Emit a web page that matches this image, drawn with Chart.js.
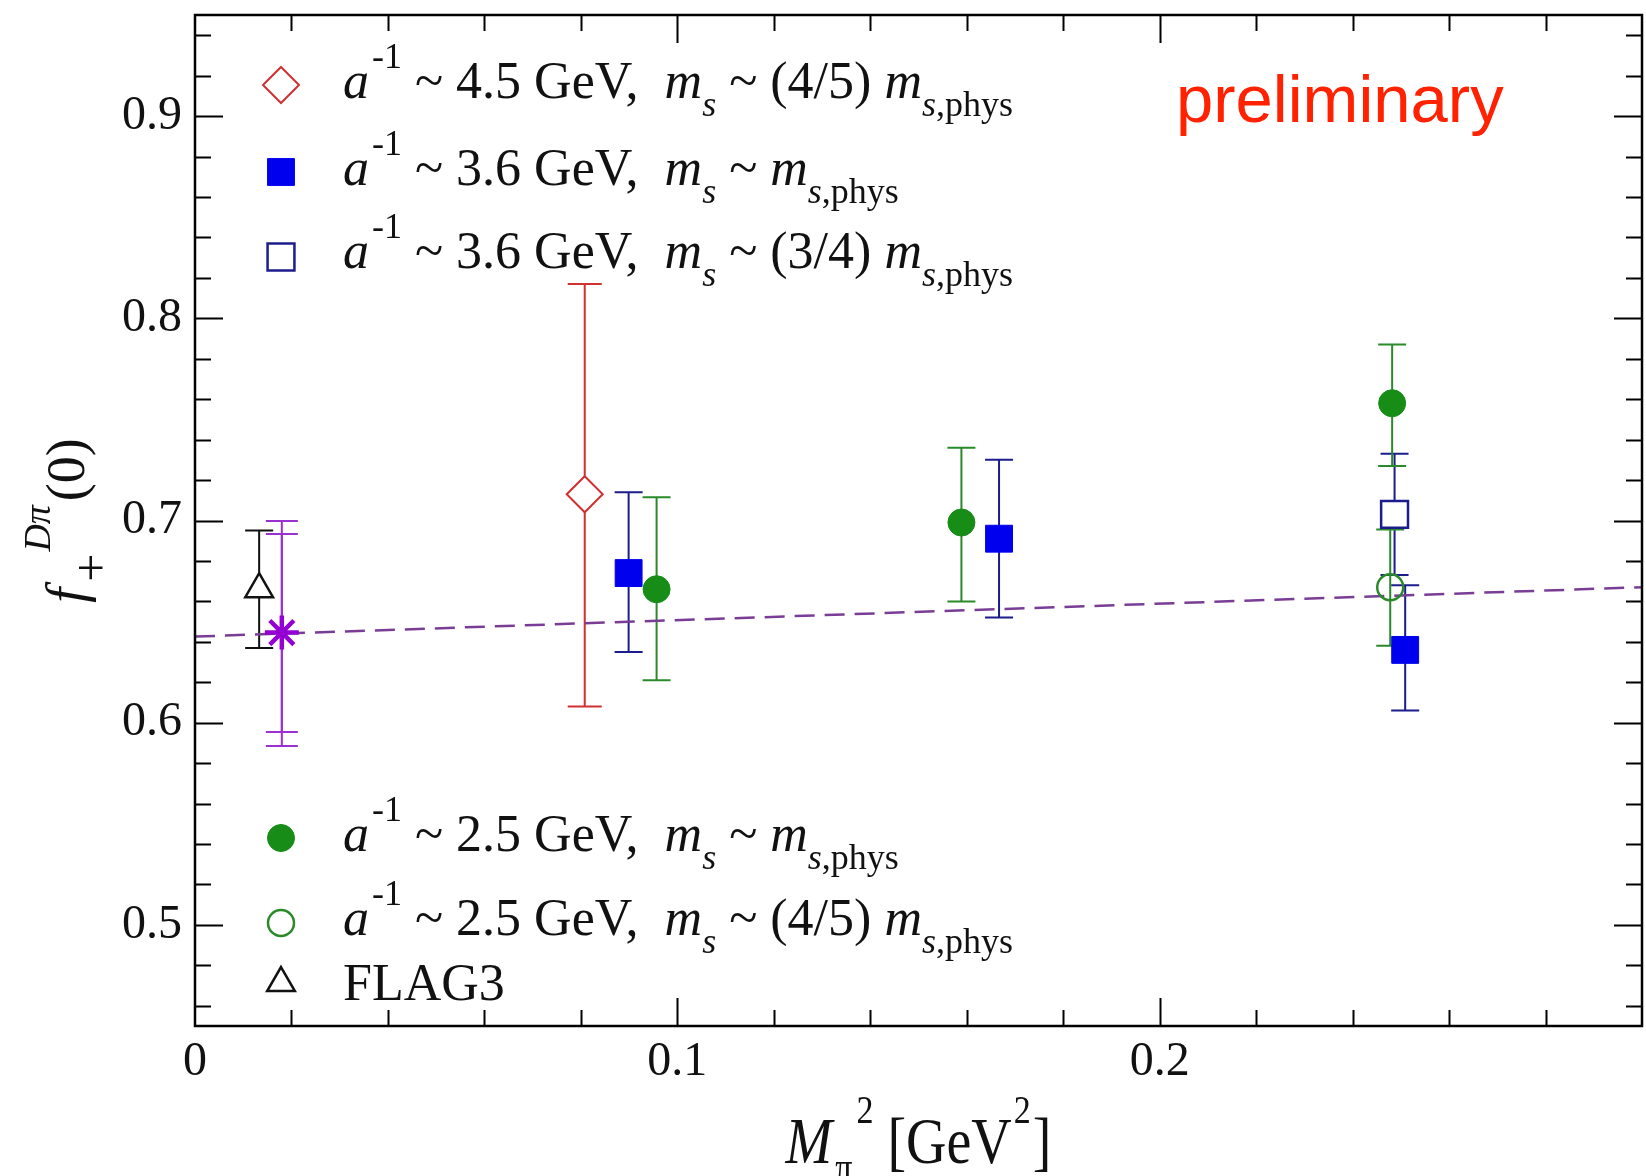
<!DOCTYPE html>
<html><head><meta charset="utf-8">
<script src="https://cdn.jsdelivr.net/npm/chart.js@4.4.0/dist/chart.umd.min.js"></script>
<style>html,body{margin:0;padding:0;background:#fff;}canvas{display:block;}</style>
</head><body>
<canvas id="c" width="1646" height="1176"></canvas>
<script>
// ---------------- data ----------------
const xTicks = [0, 0.1, 0.2];
const yTicks = [0.5, 0.6, 0.7, 0.8, 0.9];

// a^-1 ~ 4.5 GeV, ms ~ (4/5) ms,phys  (open diamond)
const diamondX  = [0.0808];
const diamondY  = [0.713];
const diamondLo = [0.608];
const diamondHi = [0.817];
// a^-1 ~ 3.6 GeV, ms ~ ms,phys  (filled square)
const blueX  = [0.0899, 0.1667, 0.2509];
const blueY  = [0.674, 0.691, 0.636];
const blueLo = [0.635, 0.652, 0.606];
const blueHi = [0.714, 0.730, 0.668];
// a^-1 ~ 3.6 GeV, ms ~ (3/4) ms,phys  (open square)
const openSqX  = [0.2487];
const openSqY  = [0.703];
const openSqLo = [0.673];
const openSqHi = [0.733];
// a^-1 ~ 2.5 GeV, ms ~ ms,phys  (filled circle)
const greenX  = [0.0957, 0.1589, 0.2482];
const greenY  = [0.666, 0.699, 0.758];
const greenLo = [0.621, 0.660, 0.727];
const greenHi = [0.7115, 0.736, 0.787];
// a^-1 ~ 2.5 GeV, ms ~ (4/5) ms,phys  (open circle)
const openCircX  = [0.2478];
const openCircY  = [0.667];
const openCircLo = [0.638];
const openCircHi = [0.6955];
// FLAG3 (open triangle)
const flagX  = [0.0133];
const flagY  = [0.666];
const flagLo = [0.637];
const flagHi = [0.695];
// physical-point result (star): statistical and total errors
const physX      = [0.018];
const physY      = [0.6446];
const physStatLo = [0.5954];
const physStatHi = [0.6933];
const physTotLo  = [0.5885];
const physTotHi  = [0.6998];
// fit line (dashed)
const fitX = [0, 0.3];
const fitY = [0.6426, 0.667];

// legend text, as [text, kind] pieces
const legendLabels = [
  [['a','i'],['-1','sup',3],[' ~ 4.5 GeV,  ',''],['m','i'],['s','subi'],[' ~ (4/5) ',''],['m','i'],['s','subi'],[',phys','sub']],
  [['a','i'],['-1','sup',3],[' ~ 3.6 GeV,  ',''],['m','i'],['s','subi'],[' ~ ',''],['m','i'],['s','subi'],[',phys','sub']],
  [['a','i'],['-1','sup',3],[' ~ 3.6 GeV,  ',''],['m','i'],['s','subi'],[' ~ (3/4) ',''],['m','i'],['s','subi'],[',phys','sub']],
  [['a','i'],['-1','sup',3],[' ~ 2.5 GeV,  ',''],['m','i'],['s','subi'],[' ~ ',''],['m','i'],['s','subi'],[',phys','sub']],
  [['a','i'],['-1','sup',3],[' ~ 2.5 GeV,  ',''],['m','i'],['s','subi'],[' ~ (4/5) ',''],['m','i'],['s','subi'],[',phys','sub']],
  [['FLAG3','']]
];
const xTitle = [['M','i'],['\u03c0','sub',3],['2','sup',4],[' [GeV',''],['2','sup',2],[']','',2]];
const yTitle = [['f','i'],['+','sub',6,50],['D\u03c0','supi',2],['(0)','',4]];
const watermark = 'preliminary';

// ---------------- helpers ----------------
const SERIF = '"Liberation Serif","Times New Roman",Times,serif';
function pts(xs, ys) { return xs.map((x, i) => ({x: x, y: ys[i]})); }

function segFont(s, o) {
  const k = s[1];
  const small = k.startsWith('sub') || k.startsWith('sup');
  const ital = (k === 'i' || k === 'subi' || k === 'supi');
  const size = s[3] || (small ? o.small : o.size);
  return (ital ? 'italic ' : '') + size + 'px ' + SERIF;
}
function richWidth(ctx, segs, o) {
  let w = 0;
  for (const s of segs) {
    ctx.font = segFont(s, o);
    w += (s[2] || 0) + ctx.measureText(s[0]).width;
  }
  return w;
}
function drawRich(ctx, segs, x, y, o) {
  let cx = x;
  ctx.textBaseline = 'alphabetic';
  ctx.textAlign = 'left';
  for (const s of segs) {
    const k = s[1];
    ctx.font = segFont(s, o);
    let dy = 0;
    if (k.startsWith('sub')) dy = o.subOff;
    else if (k.startsWith('sup')) dy = -o.supOff;
    cx += (s[2] || 0);
    ctx.fillText(s[0], cx, y + dy);
    cx += ctx.measureText(s[0]).width;
  }
}

function drawMarker(ctx, style, r, x, y, fill, stroke, bw) {
  ctx.save();
  ctx.fillStyle = fill;
  ctx.strokeStyle = stroke;
  ctx.lineWidth = bw;
  if (Chart.helpers && Chart.helpers.drawPoint) {
    Chart.helpers.drawPoint(ctx, {pointStyle: style, radius: r, rotation: 0, borderWidth: bw}, x, y);
  }
  ctx.restore();
}

// ---------------- plugins ----------------
const errorBarPlugin = {
  id: 'errorBars',
  beforeDatasetsDraw(chart) {
    const ctx = chart.ctx, xs = chart.scales.x, ys = chart.scales.y;
    chart.data.datasets.forEach(ds => {
      if (!ds.errBars) return;
      ds.errBars.forEach(eb => {
        ctx.save();
        ctx.strokeStyle = eb.color;
        ctx.lineWidth = 2;
        ds.data.forEach((p, i) => {
          const px = xs.getPixelForValue(p.x);
          const y1 = ys.getPixelForValue(eb.lo[i]);
          const y2 = ys.getPixelForValue(eb.hi[i]);
          ctx.beginPath();
          ctx.moveTo(px, y1); ctx.lineTo(px, y2);
          ctx.moveTo(px - eb.cap, y1); ctx.lineTo(px + eb.cap, y1);
          ctx.moveTo(px - eb.cap, y2); ctx.lineTo(px + eb.cap, y2);
          ctx.stroke();
        });
        ctx.restore();
      });
    });
  }
};

const framePlugin = {
  id: 'frame',
  afterDatasetsDraw(chart) {
    const ctx = chart.ctx, a = chart.chartArea, xs = chart.scales.x, ys = chart.scales.y;
    ctx.save();
    ctx.strokeStyle = '#000';
    ctx.lineWidth = 2;
    const MAJ = 28, MIN = 16;
    ctx.beginPath();
    for (let i = 1; i < 15; i++) {
      const v = i * 0.02;
      const px = Math.round(xs.getPixelForValue(v)) + 0.5;
      const len = (i % 5 === 0) ? MAJ : MIN;
      ctx.moveTo(px, a.bottom); ctx.lineTo(px, a.bottom - len);
      ctx.moveTo(px, a.top); ctx.lineTo(px, a.top + len);
    }
    for (let i = 0; i < 25; i++) {
      const v = 0.46 + i * 0.02;
      const py = Math.round(ys.getPixelForValue(v)) + 0.5;
      const len = ((i - 2) % 5 === 0) ? MAJ : MIN;
      ctx.moveTo(a.left, py); ctx.lineTo(a.left + len, py);
      ctx.moveTo(a.right, py); ctx.lineTo(a.right - len, py);
    }
    ctx.stroke();
    ctx.lineWidth = 2.5;
    ctx.strokeRect(a.left, a.top, a.right - a.left, a.bottom - a.top);
    ctx.restore();
  }
};

const textPlugin = {
  id: 'texts',
  afterDraw(chart) {
    const ctx = chart.ctx, a = chart.chartArea;
    ctx.save();
    ctx.fillStyle = '#111';
    // legend
    const ds = chart.data.datasets;
    const rows = [
      {d: 1, cy: 85,  base: 98},
      {d: 2, cy: 172, base: 185},
      {d: 3, cy: 257, base: 268},
      {d: 4, cy: 838, base: 851},
      {d: 5, cy: 923, base: 935},
      {d: 6, cy: 983, base: 1000}
    ];
    const lo = {size: 52, small: 36, supOff: 30, subOff: 18};
    rows.forEach((r, i) => {
      const d = ds[r.d];
      drawMarker(ctx, d.pointStyle, d.pointRadius, 281, r.cy,
        d.backgroundColor, d.borderColor, d.borderWidth);
      ctx.fillStyle = '#111';
      drawRich(ctx, legendLabels[i], 343, r.base, lo);
    });
    // x title
    const xo = {size: 56, small: 34, supOff: 34, subOff: 15};
    const wx = richWidth(ctx, xTitle, xo);
    ctx.save();
    ctx.translate((a.left + a.right) / 2 - wx / 2, 1163);
    ctx.scale(1, 1.18);
    drawRich(ctx, xTitle, 0, 0, xo);
    ctx.restore();
    // y title
    const yo = {size: 54, small: 38, supOff: 34, subOff: 24};
    const wy = richWidth(ctx, yTitle, yo);
    ctx.save();
    ctx.translate(84, (a.top + a.bottom) / 2);
    ctx.rotate(-Math.PI / 2);
    drawRich(ctx, yTitle, -wy / 2, 0, yo);
    ctx.restore();
    // watermark
    ctx.fillStyle = '#ff2200';
    ctx.font = '67px "Liberation Sans", Arial, Helvetica, sans-serif';
    ctx.textAlign = 'left';
    ctx.textBaseline = 'alphabetic';
    ctx.fillText(watermark, 1176, 122);
    ctx.restore();
  }
};

// ---------------- chart ----------------
const tickFont = {family: SERIF, size: 48};
new Chart(document.getElementById('c'), {
  type: 'scatter',
  data: {
    datasets: [
      {label: 'fit', type: 'line', data: pts(fitX, fitY), borderColor: '#7a3d96', borderWidth: 2.5,
       borderDash: [20, 10], pointRadius: 0, fill: false, order: 10},
      {label: 'a4.5', data: pts(diamondX, diamondY), pointStyle: 'rectRot', pointRadius: 18,
       backgroundColor: '#ffffff', borderColor: '#d03030', borderWidth: 2,
       errBars: [{lo: diamondLo, hi: diamondHi, cap: 17, color: '#d03030'}]},
      {label: 'a3.6', data: pts(blueX, blueY), pointStyle: 'rect', pointRadius: 19,
       backgroundColor: '#0000ee', borderColor: '#0000ee', borderWidth: 1,
       errBars: [{lo: blueLo, hi: blueHi, cap: 14, color: '#1c1c8c'}]},
      {label: 'a3.6b', data: pts(openSqX, openSqY), pointStyle: 'rect', pointRadius: 19,
       backgroundColor: '#ffffff', borderColor: '#1c1c8c', borderWidth: 2.5,
       errBars: [{lo: openSqLo, hi: openSqHi, cap: 14, color: '#1c1c8c'}]},
      {label: 'a2.5', data: pts(greenX, greenY), pointStyle: 'circle', pointRadius: 13.5,
       backgroundColor: '#178c17', borderColor: '#178c17', borderWidth: 1,
       errBars: [{lo: greenLo, hi: greenHi, cap: 14, color: '#2a8a2a'}]},
      {label: 'a2.5b', data: pts(openCircX, openCircY), pointStyle: 'circle', pointRadius: 13,
       backgroundColor: 'rgba(255,255,255,0)', borderColor: '#2a8a2a', borderWidth: 2.5,
       errBars: [{lo: openCircLo, hi: openCircHi, cap: 14, color: '#2a8a2a'}]},
      {label: 'FLAG3', data: pts(flagX, flagY), pointStyle: 'triangle', pointRadius: 16,
       backgroundColor: '#ffffff', borderColor: '#111111', borderWidth: 2.5,
       errBars: [{lo: flagLo, hi: flagHi, cap: 14, color: '#111111'}]},
      {label: 'phys', data: pts(physX, physY), pointStyle: 'star', pointRadius: 17,
       backgroundColor: '#9400d3', borderColor: '#9400d3', borderWidth: 4.5,
       errBars: [{lo: physTotLo, hi: physTotHi, cap: 16, color: '#9b30d0'},
                 {lo: physStatLo, hi: physStatHi, cap: 16, color: '#9b30d0'}]}
    ]
  },
  options: {
    responsive: false,
    animation: false,
    devicePixelRatio: 1,
    events: [],
    layout: {autoPadding: false, padding: {left: 0, right: 4, top: 15, bottom: 0}},
    plugins: {legend: {display: false}, tooltip: {enabled: false}, title: {display: false}},
    scales: {
      x: {
        type: 'linear', position: 'bottom', min: 0, max: 0.3,
        afterBuildTicks: s => { s.ticks = xTicks.map(v => ({value: v})); },
        afterFit: s => { s.height = 150; s.paddingLeft = 0; s.paddingRight = 0; },
        grid: {display: false, drawTicks: false},
        border: {display: false},
        ticks: {padding: 8, font: tickFont, color: '#111', maxRotation: 0, autoSkip: false,
                callback: v => (v === 0 ? '0' : v.toFixed(1))}
      },
      y: {
        type: 'linear', position: 'left', min: 0.45, max: 0.95,
        afterBuildTicks: s => { s.ticks = yTicks.map(v => ({value: v})); },
        afterFit: s => { s.width = 195; s.paddingTop = 0; s.paddingBottom = 0; },
        grid: {display: false, drawTicks: false},
        border: {display: false},
        ticks: {padding: 13, font: tickFont, color: '#111', autoSkip: false,
                callback: v => v.toFixed(1)}
      }
    }
  },
  plugins: [errorBarPlugin, framePlugin, textPlugin]
});
</script>
</body></html>
